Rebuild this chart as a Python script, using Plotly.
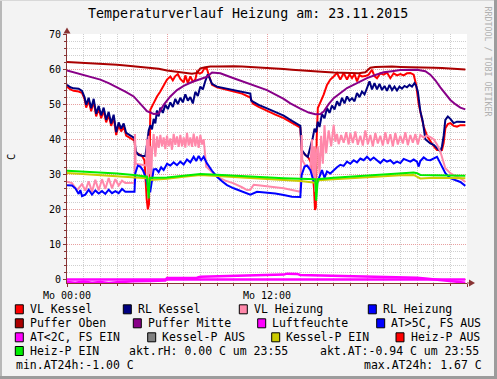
import plotly.graph_objects as go

# ---------------- data (hours since Mo 00:00, degrees C) ----------------
vl_kessel_h = [0.0, 0.2, 0.4, 0.7, 0.9, 1.05, 1.15, 1.3, 1.45, 1.6, 1.75, 1.9, 2.05, 2.2, 2.35, 2.5, 2.65, 2.8, 2.95, 3.1,
               3.25, 3.4, 3.55, 3.7, 3.9, 4.05, 4.12, 4.3, 4.5, 4.65, 4.78, 4.85, 4.92, 4.97, 5.0, 5.2, 5.4, 5.6, 5.8, 6.0,
               6.2, 6.35, 6.5, 6.65, 6.8, 7.0, 7.1, 7.25, 7.4, 7.55, 7.7, 7.8, 7.95, 8.1, 8.25, 8.4, 8.5, 8.7, 9.0, 9.5,
               10.0, 10.5, 11.0, 11.15, 11.5, 12.0, 12.5, 13.0, 13.5, 14.0, 14.08, 14.3, 14.5, 14.7, 14.82, 14.88, 14.93,
               14.98, 15.05, 15.2, 15.4, 15.6, 15.8, 16.0, 16.2, 16.4, 16.6, 16.8, 16.95, 17.1, 17.25, 17.4, 17.55, 17.7,
               17.9, 18.1, 18.3, 18.45, 18.6, 18.8, 19.0, 19.2, 19.4, 19.6, 19.8, 20.0, 20.2, 20.4, 20.6, 20.8, 20.95,
               21.1, 21.2, 21.4, 21.6, 21.8, 22.0, 22.2, 22.5, 22.6, 22.7, 22.85, 23.0, 23.2, 23.4, 23.6, 23.9]
vl_kessel_v = [55.0, 54.2, 53.8, 53.6, 53.2, 51.5, 49.0, 51.0, 48.0, 50.8, 46.5, 48.8, 46.0, 48.2, 44.8, 47.0, 43.8, 46.2, 41.2, 44.0,
               42.2, 43.7, 41.0, 40.6, 40.1, 39.6, 36.0, 35.8, 35.2, 34.0, 23.0, 20.0, 21.5, 40.0, 48.4, 50.3, 52.2, 53.6, 55.5, 57.0,
               57.9, 56.8, 58.0, 58.6, 57.2, 56.2, 58.2, 56.0, 57.9, 56.4, 57.0, 59.3, 58.7, 59.0, 60.3, 60.0, 58.4, 55.5, 54.8, 54.2,
               53.6, 53.0, 51.9, 50.2, 49.2, 48.0, 47.0, 46.0, 44.6, 43.3, 36.6, 35.6, 34.6, 32.7, 26.0, 19.8, 20.5,
               40.0, 48.9, 50.5, 52.7, 55.5, 57.0, 57.9, 58.9, 57.0, 58.9, 57.0, 58.5, 57.4, 58.6, 56.5, 58.3, 57.9,
               58.0, 58.4, 59.8, 58.0, 57.4, 58.8, 58.4, 59.0, 57.4, 58.8, 58.2, 58.6, 58.2, 58.8, 58.9, 58.4, 55.5,
               50.0, 47.9, 43.6, 41.0, 39.3, 38.0, 36.9, 36.9, 39.0, 43.1, 44.3, 44.6, 43.8, 43.6, 44.0, 44.0]

rl_kessel_h = [0.0, 0.2, 0.4, 0.7, 0.9, 1.05, 1.15, 1.3, 1.45, 1.6, 1.75, 1.9, 2.05, 2.2, 2.35, 2.5, 2.65, 2.8, 2.95, 3.1,
               3.25, 3.4, 3.55, 3.7, 3.9, 4.05, 4.12, 4.3, 4.5, 4.7, 4.8, 4.9, 5.0, 5.1, 5.2, 5.3, 5.4, 5.5, 5.6, 5.75,
               5.9, 6.05, 6.2, 6.35, 6.5, 6.65, 6.8, 6.95, 7.1, 7.25, 7.4, 7.55, 7.7, 7.85, 8.0, 8.15, 8.3, 8.45, 8.55, 8.7,
               9.0, 9.5, 10.0, 10.5, 11.0, 11.05, 11.5, 12.0, 12.5, 13.0, 13.5, 14.0, 14.08, 14.3, 14.45, 14.6, 14.75, 14.85,
               14.95, 15.05, 15.15, 15.3, 15.45, 15.6, 15.75, 15.9, 16.05, 16.2, 16.35, 16.5, 16.65, 16.8, 16.95, 17.1, 17.25,
               17.4, 17.55, 17.7, 17.85, 18.0, 18.15, 18.3, 18.45, 18.6, 18.75, 18.9, 19.05, 19.2, 19.35, 19.5, 19.65, 19.8,
               19.95, 20.1, 20.25, 20.4, 20.55, 20.7, 20.85, 20.95, 21.05, 21.2, 21.35, 21.5, 21.65, 21.8, 22.0, 22.2, 22.4,
               22.5, 22.6, 22.7, 22.85, 23.0, 23.2, 23.4, 23.6, 23.9]
rl_kessel_v = [55.5, 54.8, 54.5, 54.4, 53.8, 52.0, 49.8, 51.8, 48.8, 51.5, 47.2, 49.5, 46.8, 49.0, 45.5, 47.8, 44.5, 47.0, 42.0, 44.8,
               43.0, 44.5, 41.8, 41.3, 40.8, 40.3, 36.5, 35.5, 35.3, 35.2, 38.5, 42.5, 44.0, 42.8, 45.8, 44.5, 48.2, 46.5, 49.0, 47.5,
               49.8, 48.6, 50.5, 49.2, 51.5, 50.0, 51.8, 50.5, 52.8, 51.0, 52.0, 50.2, 53.5, 52.3, 55.0, 54.2, 56.6, 58.5, 57.5, 55.8,
               55.0, 54.5, 54.0, 53.6, 53.0, 51.0, 49.8, 48.8, 47.8, 46.7, 45.2, 43.8, 37.0, 35.5, 35.0, 37.4, 40.5, 43.0,
               42.0, 45.0, 43.5, 47.2, 46.0, 48.9, 47.5, 49.6, 48.5, 50.8, 49.5, 51.8, 50.2, 52.2, 51.0, 51.7, 50.8,
               53.2, 52.0, 53.6, 52.8, 54.6, 56.5, 54.2, 56.0, 54.2, 55.8, 54.0, 55.2, 53.8, 55.5, 54.0, 55.0, 53.9,
               55.0, 54.4, 55.2, 54.8, 55.5, 55.0, 56.0, 55.2, 53.6, 48.0, 45.0, 40.0, 39.3, 38.8, 38.4, 37.5, 36.5,
               38.0, 41.0, 45.5, 46.5, 45.8, 44.6, 45.0, 45.0, 44.9]

vl_heizung_h = [0.0, 0.3, 0.6, 0.9, 1.1, 1.3, 1.5, 1.7, 1.9, 2.1, 2.3, 2.5, 2.7, 2.9, 3.1, 3.3, 3.5, 3.8, 4.05, 4.08,
                4.12, 4.4, 4.75, 4.8, 4.85, 4.9, 4.95, 5.0, 5.05, 5.1, 5.2, 5.3, 5.4, 5.5, 5.6, 5.7, 5.8, 5.9, 6.0, 6.1,
                6.2, 6.3, 6.4, 6.5, 6.6, 6.7, 6.8, 6.9, 7.0, 7.1, 7.2, 7.3, 7.4, 7.5, 7.6, 7.7, 7.8, 7.9, 8.0, 8.1,
                8.2, 8.35, 8.6, 9.0, 9.5, 10.0, 10.5, 10.8, 11.0, 11.2, 11.6, 12.0, 12.5, 13.0, 13.5, 14.0, 14.08, 14.12,
                14.3, 14.6, 14.7, 14.75, 14.82, 14.9, 14.95, 15.05, 15.15, 15.25, 15.35, 15.45, 15.55, 15.7, 15.85, 16.0,
                16.1, 16.2, 16.3, 16.45, 16.6, 16.75, 16.9, 17.0, 17.15, 17.3, 17.45, 17.6, 17.75, 17.9, 18.05, 18.2,
                18.35, 18.5, 18.65, 18.8, 18.95, 19.1, 19.25, 19.4, 19.55, 19.7, 19.85, 20.0, 20.15, 20.3, 20.45, 20.6,
                20.75, 20.9, 21.05, 21.2, 21.4, 21.6, 21.8, 22.0, 22.2, 22.4, 22.7, 23.0, 23.3, 23.6, 23.9]
vl_heizung_v = [27.9, 27.5, 25.5, 27.2, 25.3, 28.0, 25.0, 28.4, 25.4, 28.6, 25.8, 28.9, 26.0, 28.6, 26.8, 28.2, 27.5, 27.6, 27.6, 41.5,
                33.0, 32.8, 32.5, 40.0, 26.0, 41.0, 30.0, 38.0, 28.0, 36.0, 41.5, 35.0, 40.8, 37.5, 41.2, 38.0, 40.5, 37.2, 41.0, 38.0,
                40.2, 37.0, 41.5, 38.4, 40.8, 37.8, 41.2, 38.0, 40.5, 37.6, 41.8, 38.2, 40.5, 37.8, 41.6, 38.0, 40.8, 37.5, 41.2, 38.5,
                40.0, 32.2, 31.0, 29.3, 28.2, 27.4, 26.3, 25.5, 25.6, 27.0, 26.8, 26.6, 26.3, 26.0, 25.5, 25.0, 41.2, 34.0,
                32.5, 32.0, 40.0, 28.0, 38.0, 25.0, 36.0, 38.0, 30.0, 41.0, 33.0, 44.0, 36.0, 42.5, 38.0, 44.1,
                39.3, 41.5, 38.6, 41.2, 39.0, 42.0, 38.5, 41.7, 38.9, 42.2, 38.4, 41.0, 38.2, 42.5, 38.6, 41.2,
                38.0, 41.8, 38.8, 41.0, 38.2, 42.0, 38.6, 41.4, 38.0, 41.8, 38.5, 41.0, 38.8, 42.0, 38.3, 41.2,
                39.0, 41.5, 38.5, 41.2, 40.5, 41.0, 40.6, 40.0, 38.5, 36.5, 31.7, 30.3, 29.5, 28.9, 27.8]

rl_heizung_h = [0.0, 0.3, 0.5, 0.7, 0.8, 0.9, 1.1, 1.3, 1.5, 1.7, 1.9, 2.1, 2.3, 2.5, 2.7, 2.9, 3.1, 3.3, 3.5, 3.8,
                4.05, 4.1, 4.25, 4.4, 4.55, 4.7, 4.8, 4.9, 5.0, 5.1, 5.2, 5.35, 5.5, 5.65, 5.8, 6.0, 6.2, 6.4, 6.6, 6.8,
                7.0, 7.2, 7.4, 7.6, 7.75, 7.9, 8.05, 8.2, 8.4, 8.7, 9.0, 9.3, 9.6, 10.0, 10.4, 10.8, 11.0, 11.4, 12.0, 12.5,
                13.0, 13.5, 14.0, 14.08, 14.25, 14.4, 14.6, 14.8, 15.0, 15.15, 15.3, 15.45, 15.6, 15.8, 16.0, 16.2, 16.4,
                16.6, 16.8, 17.0, 17.2, 17.4, 17.6, 17.8, 18.0, 18.2, 18.4, 18.6, 18.8, 19.0, 19.2, 19.4, 19.6, 19.8, 20.0,
                20.2, 20.4, 20.6, 20.8, 21.0, 21.1, 21.2, 21.4, 21.6, 21.8, 22.0, 22.2, 22.35, 22.5, 22.7, 23.0, 23.3,
                23.6, 23.9]
rl_heizung_v = [26.9, 26.8, 26.0, 24.4, 25.5, 23.8, 24.2, 25.6, 24.2, 25.4, 24.5, 25.2, 24.4, 25.6, 24.6, 25.2, 24.6, 25.8, 25.0, 25.0,
                25.0, 30.3, 32.5, 32.2, 31.2, 29.5, 27.6, 25.5, 25.2, 29.0, 31.4, 31.5, 30.6, 32.0, 31.2, 33.0, 32.5, 33.4, 32.6, 33.6,
                32.8, 34.2, 33.4, 35.0, 33.8, 35.2, 34.0, 35.0, 33.1, 31.0, 29.3, 28.0, 26.9, 26.0, 25.2, 24.6, 24.2, 25.0, 24.8, 24.5,
                24.1, 23.6, 23.5, 29.8, 32.2, 32.5, 31.2, 27.9, 27.4, 29.5, 31.2, 29.0, 30.8, 30.2, 31.2, 32.0, 32.7,
                32.4, 33.6, 33.0, 34.0, 33.4, 34.5, 34.0, 35.0, 34.0, 34.8, 34.1, 33.2, 34.2, 33.6, 34.0, 33.1, 33.6, 33.2,
                34.4, 34.1, 33.6, 34.2, 33.6, 32.2, 33.8, 34.8, 34.1, 34.0, 34.6, 35.0, 33.6, 32.0, 30.3, 28.9, 28.3,
                27.8, 26.7]

puffer_oben_h = [0, 0.5, 1, 1.5, 2, 2.5, 3, 3.5, 4, 4.5, 5, 5.5, 6, 6.5, 7, 7.5, 7.8, 8.0, 8.3, 8.6, 9, 9.5, 10, 10.5,
                 11, 11.5, 12, 12.5, 13, 13.5, 14, 14.5, 15, 15.5, 16, 16.5, 17, 17.5, 17.9, 18.2, 18.5, 19, 19.5, 20,
                 20.5, 21, 21.5, 22, 22.5, 23, 23.5, 23.9]
puffer_oben_v = [62.0, 61.9, 61.8, 61.7, 61.6, 61.4, 61.2, 61.0, 60.8, 60.6, 60.4, 60.1, 59.6, 59.3, 58.9, 58.7, 58.9, 60.2,
                 60.5, 60.7, 60.7, 60.8, 60.8, 60.7, 60.6, 60.5, 60.4, 60.2, 60.0, 59.8, 59.7, 59.5, 59.4, 59.2, 59.0, 58.9,
                 58.8, 58.8, 59.1, 60.4, 60.6, 60.7, 60.7, 60.6, 60.6, 60.5, 60.5, 60.4, 60.3, 60.2, 60.0, 59.9]

puffer_mitte_h = [0, 0.5, 1, 1.5, 2, 2.5, 3, 3.5, 4, 4.4, 4.8, 5.2, 5.5, 5.8, 6.2, 6.6, 7.0, 7.5, 8.0, 8.4, 8.7, 9.2,
                  10, 11, 12, 13, 13.4, 14, 14.5, 14.9, 15.2, 15.4, 15.7, 16, 16.4, 16.8, 17.4, 18, 18.5, 19, 19.5, 20,
                  21, 21.5, 21.8, 22.1, 22.4, 22.7, 23.0, 23.3, 23.6, 23.9]
puffer_mitte_v = [59.6, 59.0, 58.4, 57.8, 57.0, 56.0, 54.9, 53.6, 52.2, 50.2, 48.0, 47.2, 47.3, 49.8, 52.2, 54.0, 55.2, 56.3,
                  57.2, 57.8, 59.0, 58.8, 57.4, 55.8, 54.0, 51.5, 50.2, 48.7, 47.6, 47.1, 47.2, 47.9, 50.0, 51.7, 53.2,
                  54.6, 56.0, 57.4, 58.3, 59.1, 59.4, 59.7, 59.8, 59.4, 58.4, 56.8, 54.8, 53.0, 51.2, 50.0, 49.0, 48.5]

luftfeuchte_h = [0, 6, 12, 18, 23.9]
luftfeuchte_v = [0.0, 0.0, 0.0, 0.0, 0.0]

aussen_h = [0.0, 0.5, 1.0, 1.5, 2.0, 2.5, 3.0, 3.5, 4.0, 5.0, 5.9, 6.0, 7.0, 7.8, 8.0, 9.0, 10.0, 11.0, 11.3, 12.0,
            13.0, 13.2, 13.8, 14.0, 15.0, 16.0, 17.0, 18.0, 19.0, 20.0, 21.0, 21.5, 22.0, 22.5, 23.0, 23.5, 23.9]
aussen_v = [-0.7, -0.9, -0.6, -0.9, -0.7, -1.0, -0.8, -0.6, -0.5, -0.4, -0.3, 0.4, 0.4, 0.5, 0.8, 0.9, 1.0, 1.1, 1.3, 1.3,
            1.4, 1.67, 1.6, 1.3, 1.2, 1.1, 1.0, 1.0, 0.9, 0.8, 0.5, 0.3, 0.1, -0.2, -0.4, -0.7, -0.94]

kessel_p_ein_h = [0.0, 1.0, 2.0, 3.0, 4.0, 4.8, 5.0, 6.0, 7.0, 8.0, 9.0, 10.0, 11.0, 12.0, 13.0, 14.0, 14.9, 15.1,
                  16.0, 17.0, 18.0, 19.0, 20.0, 20.8, 21.2, 22.0, 23.0, 23.9]
kessel_p_ein_v = [30.4, 30.1, 29.8, 29.6, 29.3, 28.9, 28.4, 28.7, 29.3, 29.8, 29.5, 29.2, 28.9, 28.6, 28.3, 28.1, 27.6, 28.3,
                  28.6, 28.9, 29.3, 29.5, 29.7, 29.8, 28.8, 29.0, 28.9, 28.9]

heiz_p_ein_h = [0.0, 1.0, 2.0, 3.0, 4.0, 4.5, 4.8, 4.9, 4.97, 5.5, 6.0, 7.0, 8.0, 9.0, 10.0, 11.0, 12.0, 13.0, 14.0,
                14.9, 14.95, 15.05, 16.0, 17.0, 18.0, 19.0, 20.0, 20.8, 21.0, 21.2, 22.0, 23.0, 23.9]
heiz_p_ein_v = [31.0, 30.8, 30.5, 30.2, 29.8, 29.5, 29.3, 23.1, 29.0, 29.0, 29.1, 29.6, 30.1, 29.9, 29.6, 29.3, 29.1, 28.9,
                28.7, 28.6, 22.5, 28.6, 29.0, 29.3, 29.8, 30.0, 30.2, 30.5, 30.3, 29.8, 29.7, 29.6, 29.6]

x_tick_vals = [0, 6, 12, 18, 24]
x_tick_text = ["Mo 00:00", "", "Mo 12:00", "", ""]
y_tick_vals = [0, 10, 20, 30, 40, 50, 60, 70]
y_tick_text = ["0", "10", "20", "30", "40", "50", "60", "70"]

legend_names = ["VL Kessel", "RL Kessel", "VL Heizung", "RL Heizung", "Puffer Oben", "Puffer Mitte",
                "Luftfeuchte", "AT&gt;5C, FS AUS", "AT&lt;2C, FS EIN", "Kessel-P AUS", "Kessel-P EIN",
                "Heiz-P AUS", "Heiz-P EIN"]
legend_colors = ["#FF0000", "#000080", "#FF88AA", "#0000FF", "#AA0000", "#880088",
                 "#FF00FF", "#0000FF", "#FF00FF", "#808080", "#CCCC00", "#FF0000", "#00EE00"]
info_texts = ["akt.rH: 0.00 C um 23:55", "akt.AT:-0.94 C um 23:55", "min.AT24h:-1.00 C", "max.AT24h: 1.67 C"]
title_text = "Temperaturverlauf Heizung am: 23.11.2015"
watermark_text = "RRDTOOL / TOBI OETIKER"

# ---------------- layout geometry (pixels) ----------------
W, H = 497, 379
L, R, T, B = 67, 30, 34, 96
PW, PH = W - L - R, H - T - B
MONO = "DejaVu Sans Mono"
AXIS_COLOR = "#883333"


def px(x):
    return (x - L) / PW


def py(y):
    return (H - B - y) / PH


fig = go.Figure()

series = [
    (vl_kessel_h, vl_kessel_v, legend_colors[0], 2),
    (rl_kessel_h, rl_kessel_v, legend_colors[1], 2),
    (vl_heizung_h, vl_heizung_v, legend_colors[2], 2),
    (rl_heizung_h, rl_heizung_v, legend_colors[3], 2),
    (puffer_oben_h, puffer_oben_v, legend_colors[4], 2),
    (puffer_mitte_h, puffer_mitte_v, legend_colors[5], 2),
    (luftfeuchte_h, luftfeuchte_v, legend_colors[6], 2.5),
    (aussen_h, aussen_v, legend_colors[8], 2.5),
    (kessel_p_ein_h, kessel_p_ein_v, legend_colors[10], 2),
    (heiz_p_ein_h, heiz_p_ein_v, legend_colors[12], 2),
]
for xs, ys, col, w in series:
    fig.add_trace(go.Scatter(x=xs, y=ys, mode="lines", line=dict(color=col, width=w),
                             showlegend=False, hoverinfo="skip"))

shapes = []
annotations = []

# outer frame
shapes += [
    dict(type="rect", xref="paper", yref="paper", x0=px(0), x1=px(2), y0=py(H), y1=py(0),
         fillcolor="#B8B8B8", line=dict(width=0), layer="above"),
    dict(type="rect", xref="paper", yref="paper", x0=px(0), x1=px(W), y0=py(1), y1=py(0),
         fillcolor="#D8D8D8", line=dict(width=0), layer="above"),
    dict(type="rect", xref="paper", yref="paper", x0=px(W - 3), x1=px(W), y0=py(H), y1=py(0),
         fillcolor="#9C9C9C", line=dict(width=0), layer="above"),
    dict(type="rect", xref="paper", yref="paper", x0=px(0), x1=px(W), y0=py(H), y1=py(H - 3),
         fillcolor="#9C9C9C", line=dict(width=0), layer="above"),
]

# axis arrows
shapes += [
    dict(type="path", xref="paper", yref="paper",
         path=f"M {px(63.5)},{py(33.5)} L {px(70.5)},{py(33.5)} L {px(67)},{py(27.5)} Z",
         fillcolor=AXIS_COLOR, line=dict(width=0), layer="above"),
    dict(type="line", xref="paper", yref="paper", x0=px(467), x1=px(470), y0=py(H - B), y1=py(H - B),
         line=dict(color=AXIS_COLOR, width=1), layer="above"),
    dict(type="path", xref="paper", yref="paper",
         path=f"M {px(469)},{py(H - B - 3.5)} L {px(475)},{py(H - B)} L {px(469)},{py(H - B + 3.5)} Z",
         fillcolor=AXIS_COLOR, line=dict(width=0), layer="above"),
]

# title, unit label, watermark
annotations.append(dict(text=title_text, xref="paper", yref="paper", x=px(248), y=py(13.5),
                        xanchor="center", yanchor="middle", showarrow=False,
                        font=dict(family=MONO, size=13.3, color="#000000")))
annotations.append(dict(text="C", xref="paper", yref="paper", x=px(11), y=py(157), textangle=-90,
                        xanchor="center", yanchor="middle", showarrow=False,
                        font=dict(family=MONO, size=10.5, color="#000000")))
annotations.append(dict(text=watermark_text, xref="paper", yref="paper", x=px(487.5), y=py(61),
                        textangle=90, xanchor="center", yanchor="middle", showarrow=False,
                        font=dict(family=MONO, size=8.3, color="#B0B0B0")))

# legend: (index, swatch_left, row_center_y)
legend_layout = [
    (0, 15.3, 309.3), (1, 123.3, 309.3), (2, 239.3, 309.3), (3, 368.3, 309.3),
    (4, 15.3, 323.3), (5, 133.3, 323.3), (6, 257.7, 323.3), (7, 376.7, 323.3),
    (8, 15.3, 337.3), (9, 147.7, 337.3), (10, 271.7, 337.3), (11, 396.0, 337.3),
    (12, 15.3, 351.0),
]
LEG_FONT = dict(family=MONO, size=11.5, color="#000000")
for idx, sx, cy in legend_layout:
    shapes.append(dict(type="rect", xref="paper", yref="paper", x0=px(sx), x1=px(sx + 8),
                       y0=py(cy + 4.5), y1=py(cy - 4.5), fillcolor=legend_colors[idx],
                       line=dict(color="#000000", width=1), layer="above"))
    annotations.append(dict(text=legend_names[idx], xref="paper", yref="paper", x=px(sx + 14.5), y=py(cy),
                            xanchor="left", yanchor="middle", showarrow=False, borderpad=0, borderwidth=0,
                            font=LEG_FONT))

info_pos = [(129.0, 351.0, "left"), (319.7, 351.0, "left"), (15.7, 365.3, "left"), (482.0, 365.3, "right")]
for txt, (x, y, anc) in zip(info_texts, info_pos):
    annotations.append(dict(text=txt, xref="paper", yref="paper", x=px(x), y=py(y),
                            xanchor=anc, yanchor="middle", showarrow=False, borderpad=0, borderwidth=0,
                            font=LEG_FONT))

GRID_DASH = "1px,1px"
fig.update_layout(
    width=W, height=H, autosize=False,
    margin=dict(l=L, r=R, t=T, b=B, pad=0),
    paper_bgcolor="#F3F3F3", plot_bgcolor="#FFFFFF",
    showlegend=False, hovermode=False,
    shapes=shapes, annotations=annotations,
    xaxis=dict(range=[0, 24], tickmode="array", tickvals=x_tick_vals, ticktext=x_tick_text,
               showgrid=True, gridcolor="#E8A0A0", griddash=GRID_DASH, gridwidth=1,
               zeroline=False, showline=True, linecolor=AXIS_COLOR, linewidth=1,
               ticks="outside", ticklen=3, tickcolor=AXIS_COLOR, tickwidth=1,
               tickfont=dict(family=MONO, size=10, color="#000000"),
               minor=dict(tick0=0, dtick=1, showgrid=True, gridcolor="#CFCFCF", griddash=GRID_DASH,
                          gridwidth=1, ticks="outside", ticklen=2, tickcolor=AXIS_COLOR),
               fixedrange=True),
    yaxis=dict(range=[-1, 70], tickmode="array", tickvals=y_tick_vals, ticktext=y_tick_text,
               showgrid=True, gridcolor="#E8A0A0", griddash=GRID_DASH, gridwidth=1,
               zeroline=False, showline=True, linecolor=AXIS_COLOR, linewidth=1,
               ticks="outside", ticklen=3, tickcolor=AXIS_COLOR, tickwidth=1,
               tickfont=dict(family=MONO, size=10, color="#000000"),
               minor=dict(tick0=0, dtick=2, showgrid=True, gridcolor="#CFCFCF", griddash=GRID_DASH,
                          gridwidth=1, ticks="outside", ticklen=2, tickcolor=AXIS_COLOR),
               fixedrange=True),
)

fig.write_html("out.html", config={"displayModeBar": False, "staticPlot": True},
               post_script="document.body.style.margin='0';document.body.style.overflow='hidden';")
